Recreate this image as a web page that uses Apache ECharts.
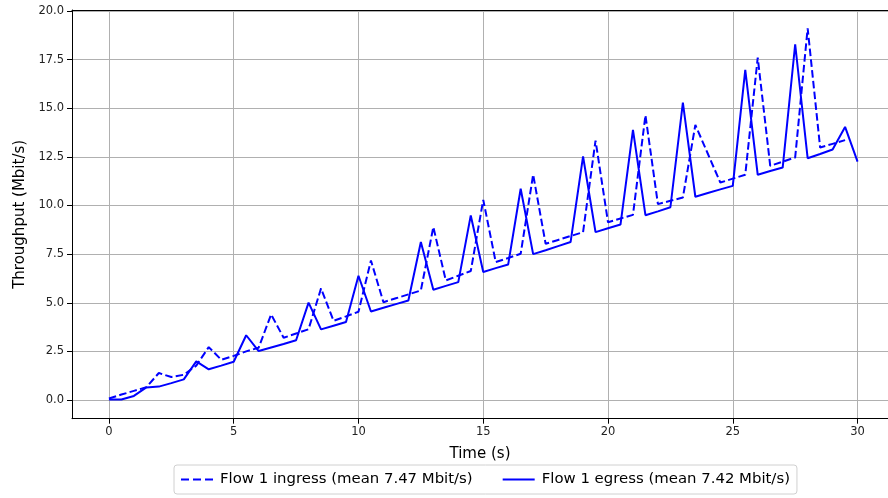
<!DOCTYPE html>
<html>
<head>
<meta charset="utf-8">
<script src="https://cdn.jsdelivr.net/npm/echarts@6/dist/echarts.min.js"></script>
<style>
html,body{margin:0;padding:0;background:#fff;}
#chart{width:888px;height:498px;}
</style>
</head>
<body>
<div id="chart"></div>
<script>
var timeIngress = [0,0.5,1,1.5,2,2.5,3,3.5,4,4.5,5,5.5,6,6.5,7,7.5,8,8.5,9,9.5,10,10.5,11,11.5,12,12.5,13,13.5,14,14.5,15,15.5,16,16.5,17,17.5,18,18.5,19,19.5,20,20.5,21,21.5,22,22.5,23,23.5,24,24.5,25,25.5,26,26.5,27,27.5,28,28.5,29,29.5];
var ingress = [0.08,0.28,0.47,0.66,1.39,1.18,1.30,1.77,2.72,2.07,2.27,2.50,2.69,4.40,3.20,3.42,3.64,5.74,4.07,4.30,4.54,7.17,5.03,5.23,5.43,5.63,8.89,6.15,6.39,6.63,10.29,7.09,7.30,7.52,11.59,8.03,8.23,8.43,8.63,13.34,9.14,9.33,9.52,14.64,10.07,10.24,10.41,14.14,12.66,11.18,11.38,11.58,17.60,12.04,12.25,12.47,19.11,12.98,13.17,13.36];
var timeEgress = [0,0.5,1,1.5,2,2.5,3,3.5,4,4.5,5,5.5,6,6.5,7,7.5,8,8.5,9,9.5,10,10.5,11,11.5,12,12.5,13,13.5,14,14.5,15,15.5,16,16.5,17,17.5,18,18.5,19,19.5,20,20.5,21,21.5,22,22.5,23,23.5,24,24.5,25,25.5,26,26.5,27,27.5,28,28.5,29,29.5,30];
var egress = [0.03,0.03,0.21,0.65,0.69,0.87,1.06,1.99,1.58,1.77,1.97,3.33,2.52,2.70,2.88,3.07,5.01,3.63,3.82,4.01,6.39,4.55,4.74,4.93,5.12,8.12,5.67,5.87,6.06,9.49,6.58,6.78,6.97,10.86,7.50,7.70,7.91,8.12,12.52,8.63,8.83,9.02,13.89,9.50,9.70,9.91,15.29,10.45,10.64,10.83,11.01,16.97,11.58,11.77,11.95,18.29,12.43,12.65,12.88,14.04,12.26];
var xTicks = [0,5,10,15,20,25,30];
var yTicks = [0,2.5,5,7.5,10,12.5,15,17.5,20];
var seriesNames = ['Flow 1 ingress (mean 7.47 Mbit/s)','Flow 1 egress (mean 7.42 Mbit/s)'];

function pairs(xs, ys){ return xs.map(function(x,i){ return [x, ys[i]]; }); }

var chart = echarts.init(document.getElementById('chart'), null, {renderer:'canvas'});
var font = 'DejaVu Sans';
chart.setOption({
  animation:false,
  backgroundColor:'#ffffff',
  textStyle:{fontFamily:font},
  grid:{left:72,right:0,top:10,bottom:79.3,containLabel:false,show:false},
  legend:{
    data:[
      {name:seriesNames[0], icon:'path://M0,0h8v2h-8zM12,0h8v2h-8zM24,0h8v2h-8z'},
      {name:seriesNames[1], icon:'path://M0,0h32v2h-32z'}
    ],
    left:174, bottom:4,
    orient:'horizontal',
    itemWidth:32, itemHeight:2, itemGap:30,
    padding:[7,7,7,7],
    borderColor:'#d0d0d0', borderWidth:1, borderRadius:3,
    textStyle:{fontFamily:font,fontSize:14.9,color:'#000',padding:[0,0,0,2],lineHeight:15}
  },
  xAxis:[{
    type:'value', min:-1.48, max:31.22,
    name:'Time (s)', nameLocation:'middle', nameGap:28,
    nameTextStyle:{fontFamily:font,fontSize:15,color:'#000'},
    axisLine:{show:true,onZero:false,lineStyle:{color:'#000',width:1}},
    axisTick:{show:true,length:5,customValues:xTicks,lineStyle:{color:'#000'}},
    axisLabel:{customValues:xTicks,fontFamily:font,fontSize:11.5,color:'#222',margin:7},
    splitLine:{show:true,lineStyle:{color:'#b0b0b0',width:1}}
  },{
    type:'value', position:'top', min:-1.48, max:31.22,
    axisLine:{show:true,onZero:false,lineStyle:{color:'#000',width:1}},
    axisTick:{show:false}, axisLabel:{show:false}, splitLine:{show:false}
  }],
  yAxis:{
    type:'value', min:-0.96, max:20.05,
    name:'Throughput (Mbit/s)', nameLocation:'middle', nameGap:42, nameRotate:90,
    nameTextStyle:{fontFamily:font,fontSize:15,color:'#000'},
    axisLine:{show:true,onZero:false,lineStyle:{color:'#000',width:1}},
    axisTick:{show:true,length:5,customValues:yTicks,lineStyle:{color:'#000'}},
    axisLabel:{customValues:yTicks,fontFamily:font,fontSize:11.5,color:'#222',margin:8,
      formatter:function(v){return v.toFixed(1);}},
    splitLine:{show:true,lineStyle:{color:'#b0b0b0',width:1}}
  },
  series:[{
    name:seriesNames[0], type:'line', xAxisIndex:0,
    data:pairs(timeIngress, ingress),
    symbol:'none', showSymbol:false,
    lineStyle:{color:'#0000ff',width:2,type:[7.5,3.3]},
    itemStyle:{color:'#0000ff'}
  },{
    name:seriesNames[1], type:'line', xAxisIndex:0,
    data:pairs(timeEgress, egress),
    symbol:'none', showSymbol:false,
    lineStyle:{color:'#0000ff',width:2,type:'solid'},
    itemStyle:{color:'#0000ff'}
  }]
});
</script>
</body>
</html>
